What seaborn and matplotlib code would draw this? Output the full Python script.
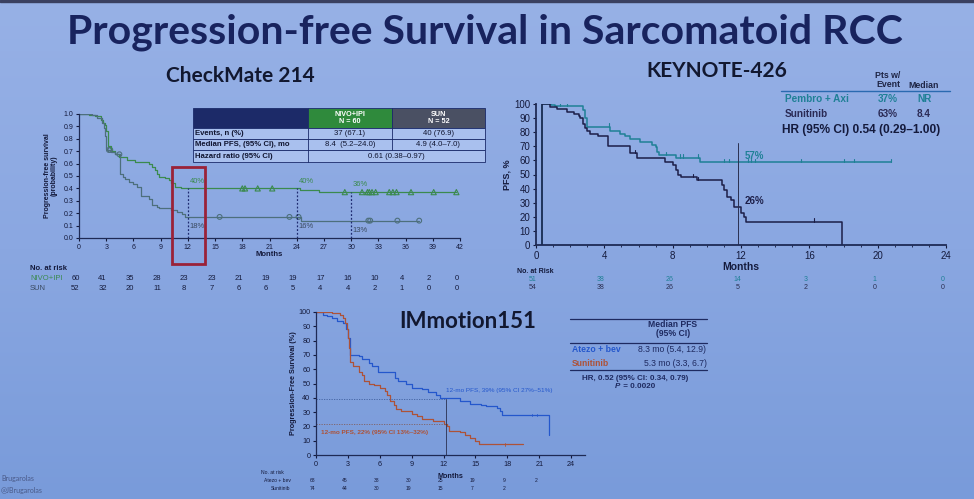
import numpy as np
import pandas as pd
import matplotlib
matplotlib.use("Agg")
import matplotlib.pyplot as plt
from matplotlib.patches import Rectangle
from matplotlib.colors import LinearSegmentedColormap
import seaborn as sns

# ---------------- DATA ----------------
# CheckMate 214
cm_ticks = [0, 3, 6, 9, 12, 15, 18, 21, 24, 27, 30, 33, 36, 39, 42]
cm_nivo_t = [0, 1.1, 1.5, 1.8, 2.4, 2.6, 2.86, 2.94, 3.2, 3.5, 4.0, 4.4, 5.3, 6.2, 7.7, 8.1, 8.4, 8.6, 8.8, 9.5, 9.9, 10.1, 10.6, 11.2, 24.4, 26.5, 41.6]
cm_nivo_s = [1.0, 0.995, 0.99, 0.98, 0.95, 0.925, 0.91, 0.86, 0.74, 0.70, 0.68, 0.655, 0.63, 0.615, 0.60, 0.575, 0.55, 0.52, 0.495, 0.48, 0.47, 0.44, 0.415, 0.40, 0.385, 0.37, 0.37]
cm_nivo_cens = [18.0, 18.3, 19.7, 21.3, 29.3, 31.2, 31.8, 32.0, 32.3, 32.7, 34.2, 34.6, 35.0, 36.6, 39.1, 41.6]
cm_sun_t = [0, 1.47, 2.0, 2.57, 2.75, 2.85, 2.94, 3.1, 3.5, 4.0, 4.5, 4.8, 5.1, 5.5, 6.0, 6.4, 6.8, 7.7, 8.1, 8.6, 8.8, 10.1, 10.8, 11.3, 11.7, 24.5, 37.5]
cm_sun_s = [1.0, 0.99, 0.965, 0.93, 0.885, 0.82, 0.72, 0.71, 0.69, 0.675, 0.52, 0.495, 0.475, 0.455, 0.435, 0.415, 0.335, 0.315, 0.27, 0.25, 0.24, 0.225, 0.21, 0.19, 0.17, 0.14, 0.14]
cm_sun_cens = [3.3, 3.45, 4.45, 15.5, 23.2, 24.2, 31.9, 32.1, 35.1, 37.5]
cm_marks = [12, 24, 30]
cm_nivo_pct = ["40%", "40%", "36%"]
cm_sun_pct = ["18%", "16%", "13%"]
cm_risk_nivo = [60, 41, 35, 28, 23, 23, 21, 19, 19, 17, 16, 10, 4, 2, 0]
cm_risk_sun = [52, 32, 20, 11, 8, 7, 6, 6, 5, 4, 4, 2, 1, 0, 0]

# KEYNOTE-426
kn_ticks = [0, 4, 8, 12, 16, 20, 24]
kn_pa_t = [0.37, 0.37, 0.86, 1.1, 2.77, 2.87, 2.97, 4.33, 4.9, 5.2, 5.5, 6.1, 6.8, 7.0, 7.1, 7.2, 8.2, 9.6, 20.8]
kn_pa_s = [0, 100, 99, 98.3, 95.9, 90, 84, 80.5, 78.7, 77, 75, 73, 71, 69.5, 66, 64, 62, 59, 59]
kn_pa_cens = [1.4, 1.8, 4.3, 7.6, 8.4, 8.6, 9.5, 11.0, 11.3, 12.4, 12.6, 12.8, 15.5, 18.0, 18.6, 20.8]
kn_su_t = [0.37, 0.37, 0.8, 1.2, 1.8, 2.2, 2.5, 2.6, 2.77, 2.87, 3.0, 3.16, 3.65, 4.24, 5.5, 5.9, 7.55, 8.0, 8.2, 8.33, 8.5, 9.4, 10.9, 11.0, 11.2, 11.4, 11.6, 12.0, 12.15, 12.3, 17.9, 17.9]
kn_su_s = [0, 100, 98, 96.5, 94.3, 93, 91.6, 90, 86, 83, 80.5, 78.7, 77, 70, 65, 62, 59, 56.7, 53, 50, 48, 46, 42.5, 39, 34, 32, 27, 22.5, 20, 16.6, 16.6, 0]
kn_su_cens = [5.8, 9.2, 9.5, 16.3]
kn_risk_pa = [51, 38, 26, 14, 3, 1, 0]
kn_risk_su = [54, 38, 26, 5, 2, 0, 0]

# IMmotion151
im_ticks = [0, 3, 6, 9, 12, 15, 18, 21, 24]
im_ab_t = [0, 0.7, 1.0, 1.5, 2.0, 2.5, 2.8, 3.0, 3.2, 4.0, 4.3, 5.0, 5.3, 5.8, 7.4, 7.7, 8.5, 9.0, 10.0, 10.5, 11.3, 11.7, 13.5, 14.5, 15.5, 16.0, 17.0, 17.3, 17.5, 21.9, 21.9]
im_ab_s = [100, 98, 97, 96, 94, 92, 88, 82, 70, 69, 67, 64, 62, 58, 54, 52, 50, 47, 46, 44, 42, 40, 38, 36, 35, 34, 33, 31, 28, 28, 14]
im_su_t = [0, 1.5, 2.3, 2.5, 2.7, 2.9, 3.0, 3.1, 3.2, 3.5, 4.0, 4.3, 4.5, 5.0, 5.5, 6.0, 6.5, 6.7, 7.0, 7.3, 7.5, 8.0, 9.0, 9.5, 10.0, 11.0, 12.0, 12.3, 12.5, 13.5, 14.0, 14.5, 15.0, 15.3, 19.5]
im_su_s = [100, 99, 98, 96, 92, 88, 82, 75, 65, 62, 58, 56, 52, 50, 49, 47, 45, 42, 38, 35, 32, 31, 29, 27, 25, 24, 22, 20, 17, 16, 14, 12, 10, 7.5, 7.5]
im_ab_cens = [20.3, 20.8]
im_su_cens = [17.8]
im_risk_ab = [68, 45, 38, 30, 25, 19, 9, 2]
im_risk_su = [74, 44, 30, 19, 15, 7, 2]

# ---------------- STYLE ----------------
sns.set_theme(style="white")
plt.rcParams["font.family"] = ["Liberation Sans", "DejaVu Sans"]
W, H = 974, 499
fig = plt.figure(figsize=(W / 100, H / 100), dpi=100)

NAVY = "#18235e"
TXT = "#141a3c"

# background gradient
bg = fig.add_axes([0, 0, 1, 1])
grad = np.linspace(0, 1, 256).reshape(-1, 1)
cmap = LinearSegmentedColormap.from_list("bg", ["#97b1e6", "#8aa7e1", "#799bda"])
bg.imshow(grad, aspect="auto", cmap=cmap, extent=[0, W, H, 0])
bg.set_xlim(0, W); bg.set_ylim(H, 0); bg.axis("off")
bg.add_patch(Rectangle((0, 0), W, 2, color="#3a4060"))


def px_axes(l, t, r, b):
    return fig.add_axes([l / W, 1 - b / H, (r - l) / W, (b - t) / H])


def style_axes(ax, fs, col="#1e2a55"):
    for s in ["top", "right"]:
        ax.spines[s].set_visible(False)
    for s in ["left", "bottom"]:
        ax.spines[s].set_color(col)
        ax.spines[s].set_linewidth(0.9)
    ax.set_facecolor("none")
    ax.tick_params(axis="both", labelsize=fs, colors=TXT, length=2.5, width=0.8, pad=1.5, direction="out")
    ax.tick_params(axis="both", which="both", bottom=True, left=True)


def step_val(ts, ss, x):
    i = np.searchsorted(np.asarray(ts), x, side="right") - 1
    return np.asarray(ss)[max(i, 0)]


# overlay text in pixel coords
ov = fig.add_axes([0, 0, 1, 1])
ov.set_xlim(0, W); ov.set_ylim(H, 0); ov.axis("off")
ov.set_zorder(10)

# titles
ov.text(485, 32, "Progression-free Survival in Sarcomatoid RCC", ha="center", va="center",
        fontsize=29.5, fontweight="bold", color=NAVY, family="Lato")
ov.text(240, 76, "CheckMate 214", ha="center", va="center", fontsize=15, fontweight="bold", color="#121830", family="Lato")
ov.text(717, 71, "KEYNOTE-426", ha="center", va="center", fontsize=15, fontweight="bold", color="#121830", family="Lato")
ov.text(468, 321, "IMmotion151", ha="center", va="center", fontsize=16, fontweight="bold", color="#121830", family="Lato")

# ================= Panel 1: CheckMate 214 =================
GREEN = "#3b8a4e"
SUNC = "#4d6f7c"
ax1 = px_axes(79, 114, 460, 238)
df = pd.DataFrame({"t": cm_nivo_t, "s": cm_nivo_s})
sns.lineplot(data=df, x="t", y="s", drawstyle="steps-post", estimator=None, sort=False, ax=ax1, color=GREEN, lw=0.9)
df = pd.DataFrame({"t": cm_sun_t, "s": cm_sun_s})
sns.lineplot(data=df, x="t", y="s", drawstyle="steps-post", estimator=None, sort=False, ax=ax1, color=SUNC, lw=0.9)
sns.scatterplot(x=cm_nivo_cens, y=[step_val(cm_nivo_t, cm_nivo_s, c) for c in cm_nivo_cens], ax=ax1,
                marker="^", s=14, facecolor="none", edgecolor=GREEN, linewidth=0.8)
sns.scatterplot(x=cm_sun_cens, y=[step_val(cm_sun_t, cm_sun_s, c) for c in cm_sun_cens], ax=ax1,
                marker="o", s=12, facecolor="none", edgecolor=SUNC, linewidth=0.8)
for m, pn, ps in zip(cm_marks, cm_nivo_pct, cm_sun_pct):
    yv = step_val(cm_nivo_t, cm_nivo_s, m)
    ax1.plot([m, m], [0, yv], ls=(0, (1.5, 1.5)), color="#1e2a70", lw=0.9)
    ax1.text(m + 0.2, yv + 0.03, pn, color=GREEN, fontsize=5.5, ha="left", va="bottom")
    ax1.text(m + 0.2, step_val(cm_sun_t, cm_sun_s, m) - 0.05, ps, color="#3a4a60", fontsize=5.5, ha="left", va="top")
ax1.set_xlim(0, 42)
ax1.set_ylim(0, 1.0)
ax1.set_xticks(cm_ticks)
ax1.set_yticks(np.round(np.arange(0, 1.01, 0.1), 1))
ax1.set_yticklabels([f"{v:.1f}" for v in np.arange(0, 1.01, 0.1)])
style_axes(ax1, 5)
ax1.set_xlabel("Months", fontsize=5.5, fontweight="bold", color=TXT, labelpad=0)
ax1.set_ylabel("Progression-free survival\n(probability)", fontsize=5, fontweight="bold", color=TXT, labelpad=4, linespacing=1.0)
ax1.add_patch(Rectangle((10.3, -0.21), 3.55, 0.785, fill=False, edgecolor="#9a2238", lw=2.0, clip_on=False, zorder=5))
# at risk
trans = ax1.get_xaxis_transform()
ax1.text(-5.4, -0.245, "No. at risk", transform=trans, fontsize=5.5, fontweight="bold", color=TXT, ha="left", va="center")
ax1.text(-5.4, -0.33, "NIVO+IPI", transform=trans, fontsize=5.5, color=GREEN, ha="left", va="center")
ax1.text(-5.4, -0.405, "SUN", transform=trans, fontsize=5.5, color="#3a4a60", ha="left", va="center")
for m, a, b in zip(cm_ticks, cm_risk_nivo, cm_risk_sun):
    ax1.text(m - 0.4, -0.33, str(a), transform=trans, fontsize=5.5, color=TXT, ha="center", va="center")
    ax1.text(m - 0.4, -0.405, str(b), transform=trans, fontsize=5.5, color=TXT, ha="center", va="center")

# table
CELLBG = "#a9c0ee"
EDGE = "#1a2a6a"
cols = [193, 308, 392, 485]
rows = [108, 128, 139, 150, 162]
ov.add_patch(Rectangle((cols[0], rows[0]), cols[1] - cols[0], rows[1] - rows[0], facecolor="#1c2a68", edgecolor=EDGE, lw=0.6))
ov.add_patch(Rectangle((cols[1], rows[0]), cols[2] - cols[1], rows[1] - rows[0], facecolor="#2f8a3c", edgecolor=EDGE, lw=0.6))
ov.add_patch(Rectangle((cols[2], rows[0]), cols[3] - cols[2], rows[1] - rows[0], facecolor="#4a5063", edgecolor=EDGE, lw=0.6))
for r in range(1, 4):
    ov.add_patch(Rectangle((cols[0], rows[r]), cols[3] - cols[0], rows[r + 1] - rows[r], facecolor=CELLBG, edgecolor=EDGE, lw=0.6))
    ov.plot([cols[1], cols[1]], [rows[r], rows[r + 1]], color=EDGE, lw=0.6)
    if r < 3:
        ov.plot([cols[2], cols[2]], [rows[r], rows[r + 1]], color=EDGE, lw=0.6)
ov.text((cols[1] + cols[2]) / 2, 118, "NIVO+IPI\nN = 60", color="white", fontsize=5.2, fontweight="bold", ha="center", va="center", linespacing=1.1)
ov.text((cols[2] + cols[3]) / 2, 118, "SUN\nN = 52", color="white", fontsize=5.2, fontweight="bold", ha="center", va="center", linespacing=1.1)
row_lab = ["Events, n (%)", "Median PFS, (95% CI), mo", "Hazard ratio (95% CI)"]
row_a = ["37 (67.1)", "8.4  (5.2–24.0)"]
row_b = ["40 (76.9)", "4.9 (4.0–7.0)"]
for i, lab in enumerate(row_lab):
    yc = (rows[i + 1] + rows[i + 2]) / 2
    ov.text(cols[0] + 2, yc, lab, fontsize=5.6, fontweight="bold", color="#101530", ha="left", va="center")
    if i < 2:
        ov.text((cols[1] + cols[2]) / 2, yc, row_a[i], fontsize=5.6, color="#101530", ha="center", va="center")
        ov.text((cols[2] + cols[3]) / 2, yc, row_b[i], fontsize=5.6, color="#101530", ha="center", va="center")
    else:
        ov.text((cols[1] + cols[3]) / 2, yc, "0.61 (0.38–0.97)", fontsize=5.6, color="#101530", ha="center", va="center")

# ================= Panel 2: KEYNOTE-426 =================
TEAL = "#1f8096"
DNAVY = "#1c1e48"
ax2 = px_axes(536, 104, 946, 245)
df = pd.DataFrame({"t": kn_pa_t, "s": kn_pa_s})
sns.lineplot(data=df, x="t", y="s", drawstyle="steps-post", estimator=None, sort=False, ax=ax2, color=TEAL, lw=1.1)
df = pd.DataFrame({"t": kn_su_t, "s": kn_su_s})
sns.lineplot(data=df, x="t", y="s", drawstyle="steps-post", estimator=None, sort=False, ax=ax2, color=DNAVY, lw=1.1)
for c in kn_pa_cens:
    yv = step_val(kn_pa_t, kn_pa_s, c)
    ax2.plot([c, c], [yv, yv + 2.2], color=TEAL, lw=0.8)
for c in kn_su_cens:
    yv = step_val(kn_su_t, kn_su_s, c)
    ax2.plot([c, c], [yv, yv + 2.2], color=DNAVY, lw=0.8)
ax2.plot([11.85, 11.85], [0, 72], color="#2a3050", lw=0.7)
ax2.text(12.2, 63, "57%", color=TEAL, fontsize=7, fontweight="bold", ha="left", va="center")
ax2.text(12.2, 31, "26%", color=DNAVY, fontsize=7, fontweight="bold", ha="left", va="center")
ax2.set_xlim(0, 24)
ax2.set_ylim(0, 100)
ax2.set_xticks(kn_ticks)
ax2.set_xticks(range(0, 25), minor=True)
ax2.set_yticks(range(0, 101, 10))
style_axes(ax2, 7)
ax2.tick_params(axis="x", which="minor", length=1.5, width=0.6, colors=TXT)
for s in ["left", "bottom"]:
    ax2.spines[s].set_linewidth(1.3)
ax2.set_xlabel("Months", fontsize=7.5, fontweight="bold", color=TXT, labelpad=1)
ax2.set_ylabel("PFS, %", fontsize=6.5, fontweight="bold", color=TXT, labelpad=2)
trans = ax2.get_xaxis_transform()
ax2.text(-1.1, -0.19, "No. at Risk", transform=trans, fontsize=5, fontweight="bold", color=TXT, ha="left", va="center")
for m, a, b in zip(kn_ticks, kn_risk_pa, kn_risk_su):
    ax2.text(m - 0.2, -0.245, str(a), transform=trans, fontsize=5, color=TEAL, ha="center", va="center")
    ax2.text(m - 0.2, -0.30, str(b), transform=trans, fontsize=5, color="#2a2d50", ha="center", va="center")
# legend table
LF = 7.2
ov.text(888, 80, "Pts w/\nEvent", fontsize=6.3, fontweight="bold", color="#1e2545", ha="center", va="center", linespacing=0.95)
ov.text(924, 85, "Median", fontsize=6.3, fontweight="bold", color="#1e2545", ha="center", va="center")
ov.plot([781, 950], [91, 91], color="#2a6ab0", lw=1.0)
ov.text(785, 99, "Pembro + Axi", fontsize=LF, fontweight="bold", color=TEAL, ha="left", va="center")
ov.text(888, 99, "37%", fontsize=LF, fontweight="bold", color=TEAL, ha="center", va="center")
ov.text(924, 99, "NR", fontsize=LF, fontweight="bold", color=TEAL, ha="center", va="center")
ov.text(785, 114, "Sunitinib", fontsize=LF, fontweight="bold", color="#2a2a55", ha="left", va="center")
ov.text(888, 114, "63%", fontsize=LF, fontweight="bold", color="#2a2a55", ha="center", va="center")
ov.text(924, 114, "8.4", fontsize=LF, fontweight="bold", color="#2a2a55", ha="center", va="center")
ov.text(782, 130, "HR (95% CI) 0.54 (0.29–1.00)", fontsize=8.6, fontweight="bold", color="#141a3c", ha="left", va="center")

# ================= Panel 3: IMmotion151 =================
BLUE = "#2457cc"
RED = "#ad5238"
ax3 = px_axes(316, 312, 585, 455)
df = pd.DataFrame({"t": im_ab_t, "s": im_ab_s})
sns.lineplot(data=df, x="t", y="s", drawstyle="steps-post", estimator=None, sort=False, ax=ax3, color=BLUE, lw=0.9)
df = pd.DataFrame({"t": im_su_t, "s": im_su_s})
sns.lineplot(data=df, x="t", y="s", drawstyle="steps-post", estimator=None, sort=False, ax=ax3, color=RED, lw=0.9)
for c in im_ab_cens:
    yv = step_val(im_ab_t, im_ab_s, c)
    ax3.plot([c, c], [yv - 1, yv + 1], color=BLUE, lw=0.6)
for c in im_su_cens:
    yv = step_val(im_su_t, im_su_s, c)
    ax3.plot([c, c], [yv - 1, yv + 1], color=RED, lw=0.6)
ax3.plot([0, 12.2], [39, 39], ls=(0, (1.5, 1.5)), color="#4060a0", lw=0.6)
ax3.plot([0, 12.2], [22, 22], ls=(0, (1.5, 1.5)), color="#806060", lw=0.6)
ax3.plot([12.2, 12.2], [0, 39], color="#2a3050", lw=0.6)
ax3.text(12.2, 45, "12-mo PFS, 39% (95% CI 27%–51%)", color=BLUE, fontsize=4.6, ha="left", va="center")
ax3.text(0.5, 16, "12-mo PFS, 22% (95% CI 13%–32%)", color=RED, fontsize=4.6, fontweight="bold", ha="left", va="center")
ax3.set_xlim(0, 25.3)
ax3.set_ylim(0, 100)
ax3.set_xticks(im_ticks)
ax3.set_yticks(range(0, 101, 10))
style_axes(ax3, 5.2)
ax3.set_xlabel("Months", fontsize=5.2, fontweight="bold", color=TXT, labelpad=4)
ax3.set_ylabel("Progression-Free Survival (%)", fontsize=5.2, fontweight="bold", color=TXT, labelpad=1)
trans = ax3.get_xaxis_transform()
ax3.text(-3.0, -0.12, "No. at risk", transform=trans, fontsize=3.6, color=TXT, ha="right", va="center")
ax3.text(-2.4, -0.18, "Atezo + bev", transform=trans, fontsize=3.6, color=TXT, ha="right", va="center")
ax3.text(-2.4, -0.235, "Sunitinib", transform=trans, fontsize=3.6, color=TXT, ha="right", va="center")
for m, a in zip(im_ticks, im_risk_ab):
    ax3.text(m - 0.3, -0.18, str(a), transform=trans, fontsize=3.6, color=TXT, ha="center", va="center")
for m, b in zip(im_ticks, im_risk_su):
    ax3.text(m - 0.3, -0.235, str(b), transform=trans, fontsize=3.6, color=TXT, ha="center", va="center")
# legend table
TF = 6.2
ov.plot([570, 707], [319, 319], color="#1e2a60", lw=0.9)
ov.text(673, 329, "Median PFS\n(95% CI)", fontsize=TF, fontweight="bold", color="#1e2a60", ha="center", va="center", linespacing=1.1)
ov.plot([570, 707], [343, 343], color="#1e2a60", lw=0.9)
ov.text(572, 350, "Atezo + bev", fontsize=TF, fontweight="bold", color=BLUE, ha="left", va="center")
ov.text(672, 350, "8.3 mo (5.4, 12.9)", fontsize=TF, color="#1e2a60", ha="center", va="center")
ov.text(572, 363, "Sunitinib", fontsize=TF, fontweight="bold", color=RED, ha="left", va="center")
ov.text(675, 363, "5.3 mo (3.3, 6.7)", fontsize=TF, color="#1e2a60", ha="center", va="center")
ov.plot([570, 707], [370, 370], color="#1e2a60", lw=0.9)
ov.text(635, 378, "HR, 0.52 (95% CI: 0.34, 0.79)", fontsize=5.8, fontweight="bold", color="#1e2a60", ha="center", va="center")
ov.text(620, 387, "P", fontsize=5.8, fontweight="bold", fontstyle="italic", color="#1e2a60", ha="right", va="center")
ov.text(621, 387, " = 0.0020", fontsize=5.8, fontweight="bold", color="#1e2a60", ha="left", va="center")

# watermark
ov.text(1, 479, "Brugarolas", fontsize=5, color="#4a5a88", ha="left", va="center", family="Lato")
ov.text(1, 491, "@JBrugarolas", fontsize=5, color="#4a5a88", ha="left", va="center", family="Lato")

fig.savefig("out.png", dpi=100)
